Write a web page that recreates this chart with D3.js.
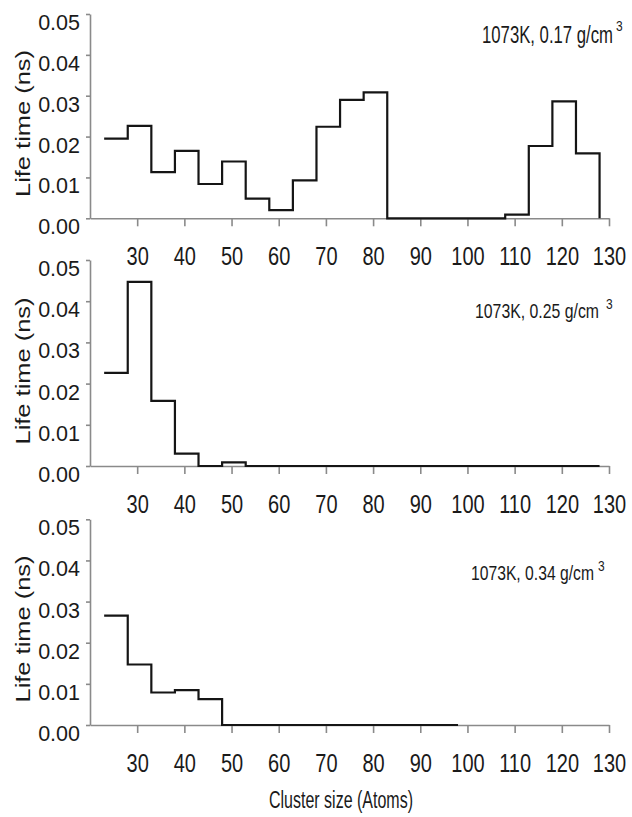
<!DOCTYPE html>
<html>
<head>
<meta charset="utf-8">
<style>
body { margin: 0; background: #fff; }
svg { display: block; }
.axis path, .axis line { stroke: #8a8a8a; stroke-width: 1.6; }
.step { fill: none; stroke: #151515; stroke-width: 2.2; }
text { fill: #1a1a1a; font-family: "Liberation Sans", Arial, sans-serif; }
</style>
</head>
<body>
<svg width="632" height="817"></svg>
<script src="https://d3js.org/d3.v7.min.js"></script>
<script>

// bin edges (cluster size, atoms) and tick labels
var binEdges = [23, 28, 33, 38, 43, 48, 53, 58, 63, 68, 73, 78, 83, 88, 93, 98, 103, 108, 113, 118, 123, 128];
var xTicks = [30, 40, 50, 60, 70, 80, 90, 100, 110, 120, 130];
var yTicks = [0, 0.01, 0.02, 0.03, 0.04, 0.05];

// life time (ns) per bin
var life017 = [0.0195, 0.0226, 0.0113, 0.0165, 0.0084, 0.0139, 0.0048, 0.0020, 0.0093, 0.0224, 0.0290,
               0.0308, 0, 0, 0, 0, 0, 0.0009, 0.0177, 0.0286, 0.0159];
var life025 = [0.0226, 0.0447, 0.0158, 0.0030, 0, 0.0009, 0, 0, 0, 0, 0,
               0, 0, 0, 0, 0, 0, 0, 0, 0, 0];
var life034 = [0.0266, 0.0147, 0.0079, 0.0085, 0.0063, 0, 0, 0, 0, 0, 0,
               0, 0, 0, 0];

var labels = ["1073K, 0.17 g/cm", "1073K, 0.25 g/cm", "1073K, 0.34 g/cm"];

var svg = d3.select("svg");

var panels = [
  {values: life017, label: labels[0], top: 14, bottom: 218.3, lx: 482, ly: 43, lw: 131, lsize: 23, sx: 616, sy: 31, yl: 123.5},
  {values: life025, label: labels[1], top: 260, bottom: 466, lx: 475, ly: 318, lw: 124, lsize: 21, sx: 606, sy: 309, yl: 371},
  {values: life034, label: labels[2], top: 519.3, bottom: 725, lx: 471, ly: 580, lw: 123, lsize: 21, sx: 598, sy: 571, yl: 629}
];

var x = d3.scaleLinear().domain([20, 130]).range([90, 609]);

var step = d3.line()
    .curve(d3.curveStepAfter);

panels.forEach(function(p) {
  var y = d3.scaleLinear().domain([0, 0.05]).range([p.bottom, p.top]);

  var xAxis = d3.axisBottom(x).tickValues(xTicks).tickSize(8).tickSizeOuter(0);
  var yAxis = d3.axisLeft(y).tickValues(yTicks).tickSize(4).tickSizeOuter(0).tickFormat(d3.format(".2f"));

  var gx = svg.append("g")
      .attr("class", "axis")
      .attr("transform", "translate(0," + p.bottom + ")")
      .call(xAxis);
  gx.selectAll("text")
      .attr("y", 47).attr("dy", 0)
      .attr("transform", "scale(0.8,1)")
      .style("font-size", "25px");

  var gy = svg.append("g")
      .attr("class", "axis")
      .attr("transform", "translate(" + x.range()[0] + ",0)")
      .call(yAxis);
  gy.selectAll("text")
      .attr("x", -10).attr("y", 15.5).attr("dy", 0)
      .style("font-size", "21.5px");

  svg.selectAll(".axis text").attr("fill", "#1a1a1a").attr("font-family", null);

  var pts = p.values.map(function(v, i) { return [x(binEdges[i]), y(v)]; });
  pts.push([x(binEdges[p.values.length]), y(0)]);

  svg.append("path")
      .attr("class", "step")
      .attr("d", step(pts));

  svg.append("text")
      .attr("x", p.lx).attr("y", p.ly)
      .attr("textLength", p.lw).attr("lengthAdjust", "spacingAndGlyphs")
      .style("font-size", p.lsize + "px")
      .text(p.label);
  svg.append("text")
      .attr("x", p.sx).attr("y", p.sy)
      .style("font-size", "15px")
      .attr("transform", "translate(" + p.sx + ",0) scale(0.8,1) translate(" + (-p.sx) + ",0)")
      .text("3");

  svg.append("text")
      .attr("transform", "translate(30," + p.yl + ") rotate(-90)")
      .attr("text-anchor", "middle")
      .attr("textLength", 147).attr("lengthAdjust", "spacingAndGlyphs")
      .style("font-size", "21px")
      .text("Life time (ns)");
});

svg.append("text")
    .attr("x", 269).attr("y", 808)
    .attr("textLength", 144).attr("lengthAdjust", "spacingAndGlyphs")
    .style("font-size", "23px")
    .text("Cluster size (Atoms)");

</script>
</body>
</html>
